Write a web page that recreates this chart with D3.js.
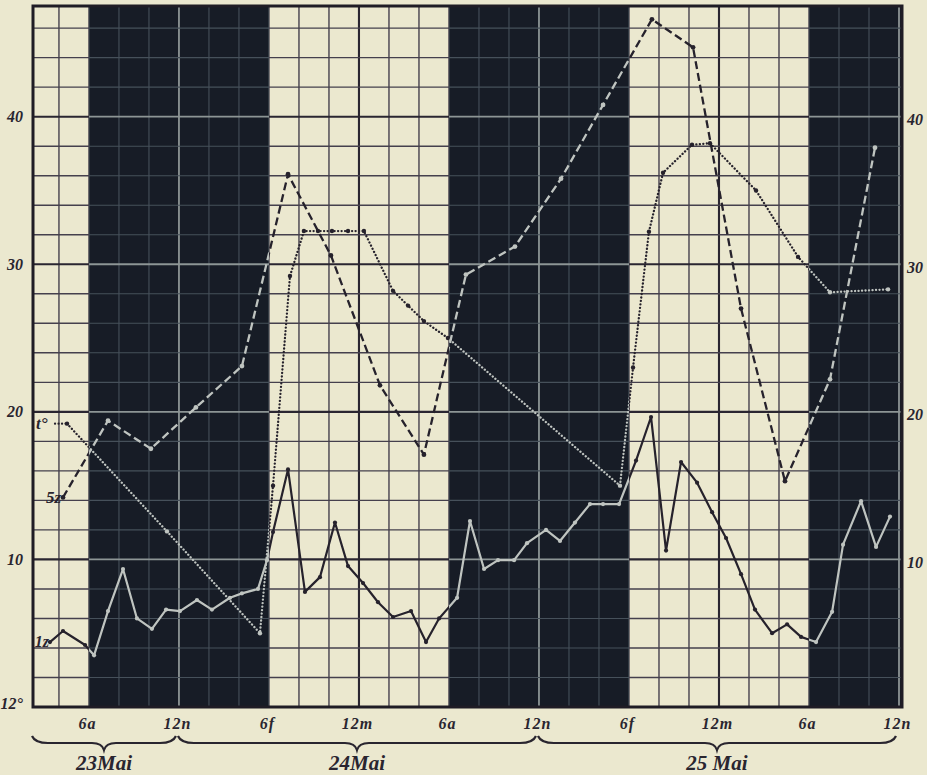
<!DOCTYPE html>
<html>
<head>
<meta charset="utf-8">
<script src="https://cdn.jsdelivr.net/npm/d3@7"></script>
<style>
body { margin: 0; background: #ebe8cf; }
text { font-family: "Liberation Serif", "DejaVu Serif", serif; font-style: italic; font-weight: bold; fill: #29252f; }
</style>
</head>
<body>
<div id="chart"></div>
<script>
// hours are counted from 23 Mai 00:00
var timeTicks = [18, 24, 30, 36, 42, 48, 54, 60, 66, 72];
var timeLabels = ["6a", "12n", "6f", "12m", "6a", "12n", "6f", "12m", "6a", "12n"];
var leftTicks = [0, 10, 20, 30, 40];
var leftLabels = ["12°", "10", "20", "30", "40"];
var rightTicks = [10, 20, 30, 40];
var nightBands = [[18, 30], [42, 54], [66, 72.2]];
var dayNames = ["23Mai", "24Mai", "25 Mai"];
var daySpans = [[14.27, 24], [24, 48], [48, 72]];

// dashed series (5z)
var dashHours = [16.27, 19.27, 22.13, 25.13, 28.2, 31.27, 34.13, 37.4, 40.33, 43.13, 46.4, 49.47, 52.27, 55.53, 58.27, 61.47, 64.4, 67.4, 70.4];
var dashValues = [14.2, 19.4, 17.5, 20.3, 23.1, 36.1, 30.6, 21.8, 17.1, 29.3, 31.2, 35.8, 40.8, 46.6, 44.7, 27.0, 15.3, 22.2, 37.9];

// dotted series (t°)
var dotHours = [16.54, 23.2, 29.4, 30.27, 31.4, 32.33, 33.27, 34.2, 35.27, 36.33, 38.27, 39.27, 40.33, 41.93, 53.4, 54.27, 55.33, 56.27, 58.2, 59.4, 62.47, 65.27, 67.4, 71.27];
var dotValues = [19.2, 11.9, 5.0, 15.0, 29.2, 32.25, 32.25, 32.25, 32.25, 32.25, 28.2, 27.2, 26.15, 25.0, 15.0, 23.0, 32.2, 36.2, 38.1, 38.2, 35.0, 30.5, 28.1, 28.3];

// solid series (1z)
var lineHours = [15.4, 16.27, 17.74, 18.34, 19.27, 20.27, 21.2, 22.2, 23.14, 24.07, 25.2, 26.2, 27.4, 28.2, 29.27, 29.87, 30.27, 31.27, 32.4, 33.4, 34.4, 35.27, 36.27, 37.27, 38.27, 39.47, 40.47, 41.34, 42.54, 43.4, 44.34, 45.27, 46.34, 47.2, 48.47, 49.4, 50.4, 51.4, 52.27, 53.34, 54.47, 55.47, 56.47, 57.47, 58.54, 59.54, 60.47, 61.47, 62.4, 63.54, 64.54, 65.47, 66.47, 67.54, 68.27, 69.47, 70.47, 71.4];
var lineValues = [4.4, 5.15, 4.2, 3.5, 6.5, 9.35, 6.0, 5.3, 6.6, 6.5, 7.25, 6.6, 7.4, 7.7, 8.0, 9.95, 11.85, 16.1, 7.8, 8.8, 12.5, 9.55, 8.4, 7.1, 6.1, 6.5, 4.4, 6.0, 7.4, 12.6, 9.35, 9.95, 9.95, 11.1, 12.0, 11.25, 12.5, 13.75, 13.75, 13.75, 16.7, 19.65, 10.6, 16.6, 15.2, 13.2, 11.45, 9.0, 6.6, 5.0, 5.6, 4.75, 4.4, 6.45, 11.0, 13.95, 10.85, 12.9];

var W = 927, H = 775;
var plot = {left: 33, right: 902, top: 6, bottom: 707};

var svg = d3.select("#chart").append("svg")
    .attr("width", W)
    .attr("height", H);

var x = d3.scaleLinear().domain([14.27, 72.2]).range([plot.left, plot.right]);
var y = d3.scaleLinear().domain([0, 47.5]).range([plot.bottom, plot.top]);

svg.append("rect").attr("width", W).attr("height", H).attr("fill", "#ebe8cf");

// day intervals = gaps between the night bands
var dayBands = [];
var start = x.domain()[0];
nightBands.forEach(function(b) {
    dayBands.push([start, b[0]]);
    start = b[1];
});
if (start < x.domain()[1]) dayBands.push([start, x.domain()[1]]);

var defs = svg.append("defs");
function makeClip(id, bands) {
    defs.append("clipPath").attr("id", id)
        .selectAll("rect")
        .data(bands)
        .enter()
        .append("rect")
        .attr("x", function(d) { return x(d[0]); })
        .attr("width", function(d) { return x(d[1]) - x(d[0]); })
        .attr("y", plot.top)
        .attr("height", plot.bottom - plot.top);
}
makeClip("clip-day", dayBands);
makeClip("clip-night", nightBands);

function isNight(h) {
    return nightBands.some(function(b) { return h >= b[0] && h <= b[1]; });
}

// night bands
svg.append("g").selectAll("rect")
    .data(nightBands)
    .enter()
    .append("rect")
    .attr("x", function(d) { return x(d[0]); })
    .attr("width", function(d) { return x(d[1]) - x(d[0]); })
    .attr("y", plot.top)
    .attr("height", plot.bottom - plot.top)
    .attr("fill", "#171c26");

// grid, drawn once for paper and once for the dark bands
var vLines = d3.range(16, 72.1, 2);
var hLines = d3.range(2, 47, 2);

function drawGrid(clip, col, heavyCol, w, wHeavy) {
    var g = svg.append("g").attr("clip-path", "url(#" + clip + ")");
    g.selectAll(".v").data(vLines).enter().append("line")
        .attr("x1", function(d) { return x(d); })
        .attr("x2", function(d) { return x(d); })
        .attr("y1", plot.top).attr("y2", plot.bottom)
        .attr("stroke", function(d) { return d % 12 === 0 ? heavyCol : col; })
        .attr("stroke-width", function(d) { return d % 12 === 0 ? wHeavy : w; });
    g.selectAll(".h").data(hLines).enter().append("line")
        .attr("x1", plot.left).attr("x2", plot.right)
        .attr("y1", function(d) { return y(d); })
        .attr("y2", function(d) { return y(d); })
        .attr("stroke", function(d) { return d % 10 === 0 ? heavyCol : col; })
        .attr("stroke-width", function(d) { return d % 10 === 0 ? wHeavy : w; });
}
drawGrid("clip-day", "#45404d", "#2a2631", 1.4, 2.1);
drawGrid("clip-night", "#46505a", "#8d9595", 1.1, 1.8);

// frame
svg.append("rect")
    .attr("x", plot.left).attr("y", plot.top)
    .attr("width", plot.right - plot.left).attr("height", plot.bottom - plot.top)
    .attr("fill", "none")
    .attr("stroke", "#1f1c25")
    .attr("stroke-width", 3);

// series: dark on paper, light on the night bands
function drawSeries(hours, values, dash, width, r) {
    var pts = hours.map(function(h, i) { return [h, values[i]]; });
    var line = d3.line()
        .x(function(d) { return x(d[0]); })
        .y(function(d) { return y(d[1]); });
    [["clip-day", "#26222c"], ["clip-night", "#bfc4c0"]].forEach(function(c) {
        svg.append("path")
            .datum(pts)
            .attr("clip-path", "url(#" + c[0] + ")")
            .attr("d", line)
            .attr("fill", "none")
            .attr("stroke", c[1])
            .attr("stroke-width", width)
            .attr("stroke-dasharray", dash)
            .attr("stroke-linecap", dash === "0.1,3.4" ? "round" : "butt")
            .attr("stroke-linejoin", "round");
    });
    svg.append("g").selectAll("circle")
        .data(pts)
        .enter()
        .append("circle")
        .attr("cx", function(d) { return x(d[0]); })
        .attr("cy", function(d) { return y(d[1]); })
        .attr("r", r)
        .attr("fill", function(d) { return isNight(d[0]) ? "#bfc4c0" : "#26222c"; });
}

drawSeries(lineHours, lineValues, null, 2.2, 2.1);
drawSeries(dotHours, dotValues, "0.1,3.4", 2.3, 2.2);
drawSeries(dashHours, dashValues, "8,4", 2.3, 2.4);

// leader after t° label
svg.append("line")
    .attr("x1", 55).attr("x2", x(dotHours[0]))
    .attr("y1", y(dotValues[0])).attr("y2", y(dotValues[0]))
    .attr("stroke", "#26222c").attr("stroke-width", 2.2)
    .attr("stroke-dasharray", "0.1,3.4").attr("stroke-linecap", "round");

// series labels
svg.append("text").attr("x", 36).attr("y", y(dotValues[0]) + 5).style("font-size", "17px").text("t°");
svg.append("text").attr("x", 61).attr("y", y(dashValues[0]) + 6).attr("text-anchor", "end").style("font-size", "17px").text("5z");
svg.append("text").attr("x", 49).attr("y", y(lineValues[0]) + 5).attr("text-anchor", "end").style("font-size", "16px").text("1z");

// axes
var leftAxis = d3.axisLeft(y).tickValues(leftTicks)
    .tickFormat(function(d, i) { return leftLabels[i]; })
    .tickSize(0).tickPadding(10);
var gLeft = svg.append("g").attr("transform", "translate(" + plot.left + ",0)").call(leftAxis);

var rightAxis = d3.axisRight(y).tickValues(rightTicks).tickSize(0).tickPadding(5);
var gRight = svg.append("g").attr("transform", "translate(" + plot.right + ",3)").call(rightAxis);

var bottomAxis = d3.axisBottom(x).tickValues(timeTicks)
    .tickFormat(function(d, i) { return timeLabels[i]; })
    .tickSize(0).tickPadding(11);
var gBottom = svg.append("g").attr("transform", "translate(-2," + plot.bottom + ")").call(bottomAxis);

[gLeft, gRight, gBottom].forEach(function(g) {
    g.select(".domain").remove();
    g.selectAll("text")
        .attr("fill", "#29252f")
        .style("font-family", "'Liberation Serif', serif")
        .style("font-style", "italic")
        .style("font-weight", "bold")
        .style("font-size", "16px");
});
gLeft.selectAll("text").filter(function(d) { return d === 0; }).attr("dy", "0.1em");
gBottom.selectAll("text").style("letter-spacing", "1px");

// day braces
var by = 743;
function bracePath(x1, x2) {
    var m = (x1 + x2) / 2;
    return "M" + x1 + "," + (by - 7) +
        " Q" + (x1 + 3) + "," + by + " " + (x1 + 16) + "," + by +
        " L" + (m - 12) + "," + by +
        " Q" + (m - 2) + "," + by + " " + m + "," + (by + 7) +
        " Q" + (m + 2) + "," + by + " " + (m + 12) + "," + by +
        " L" + (x2 - 16) + "," + by +
        " Q" + (x2 - 3) + "," + by + " " + x2 + "," + (by - 7);
}
svg.append("g").selectAll("path")
    .data(daySpans)
    .enter()
    .append("path")
    .attr("d", function(d) { return bracePath(x(d[0]) - 1, x(d[1]) - 3); })
    .attr("fill", "none")
    .attr("stroke", "#29252f")
    .attr("stroke-width", 2.2);

svg.append("g").selectAll("text")
    .data(daySpans)
    .enter()
    .append("text")
    .attr("x", function(d) { return (x(d[0]) + x(d[1])) / 2 - 2; })
    .attr("y", 770)
    .attr("text-anchor", "middle")
    .style("font-size", "21px")
    .text(function(d, i) { return dayNames[i]; });
</script>
</body>
</html>
